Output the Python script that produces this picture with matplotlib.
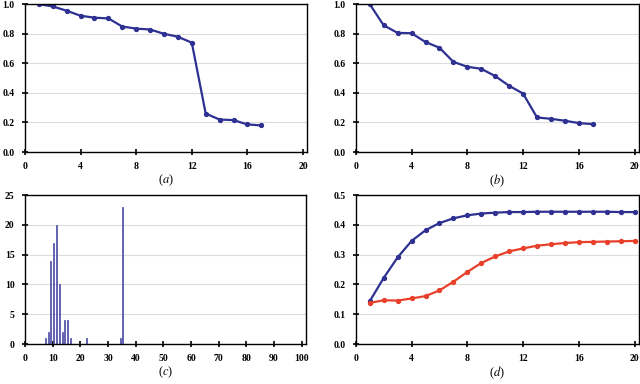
import numpy as np
import matplotlib
matplotlib.use('Agg')
import matplotlib.pyplot as plt

plt.rcParams['font.family'] = 'Liberation Serif'
plt.rcParams['mathtext.fontset'] = 'stix'

# (a) and (b): decreasing curves over 17 steps
steps = np.arange(1, 18)
a_vals = [1.0, 0.985, 0.956, 0.922, 0.909, 0.904, 0.849, 0.835, 0.829,
          0.80, 0.78, 0.74, 0.26, 0.22, 0.216, 0.187, 0.18]
b_vals = [1.0, 0.857, 0.806, 0.804, 0.744, 0.706, 0.61, 0.577, 0.563,
          0.514, 0.448, 0.396, 0.234, 0.225, 0.212, 0.196, 0.189]

# (c): histogram-like bars
c_pos = [7.5, 8.4, 9.4, 10.4, 11.4, 12.4, 13.4, 14.3, 15.4, 16.4, 22.4, 34.5, 35.4]
c_cnt = [1, 2, 14, 17, 20, 10, 2, 4, 4, 1, 1, 1, 23]

# (d): two rising curves over 20 steps
d_steps = np.arange(1, 21)
d_blue = [0.144, 0.222, 0.291, 0.346, 0.382, 0.406, 0.422, 0.432, 0.438, 0.441,
          0.443, 0.443, 0.444, 0.444, 0.444, 0.444, 0.444, 0.444, 0.443, 0.443]
d_red = [0.138, 0.147, 0.146, 0.153, 0.161, 0.180, 0.209, 0.242, 0.272, 0.294,
         0.311, 0.321, 0.330, 0.335, 0.339, 0.342, 0.343, 0.344, 0.345, 0.346]

NAVY = '#2e3192'
RED = '#e8402a'

fig = plt.figure(figsize=(6.4, 3.84), dpi=100)
ax_a = fig.add_axes([0.039, 0.604, 0.441, 0.385])
ax_b = fig.add_axes([0.556, 0.604, 0.442, 0.385])
ax_c = fig.add_axes([0.039, 0.104, 0.439, 0.388])
ax_d = fig.add_axes([0.556, 0.104, 0.442, 0.388])


def style(ax, label):
    for s in ax.spines.values():
        s.set_linewidth(1.0)
        s.set_color('black')
    ax.tick_params(direction='inout', length=5, width=1.2, labelsize=7, pad=5)
    for t in ax.get_xticklabels() + ax.get_yticklabels():
        t.set_fontweight('bold')
    ax.yaxis.grid(True, color='#dcdcdc', linewidth=0.8)
    ax.set_axisbelow(True)
    ax.set_xlabel(label, fontsize=9, labelpad=1)


for ax, vals, lab in [(ax_a, a_vals, '($a$)'), (ax_b, b_vals, '($b$)')]:
    ax.plot(steps, vals, color=NAVY, linewidth=1.6, marker='o', markersize=2.8)
    ax.set_xlim(0, 20.3)
    ax.set_ylim(0, 1.0)
    ax.set_xticks(np.arange(0, 21, 4))
    ax.set_yticks(np.arange(0, 1.01, 0.2))
    ax.set_yticklabels(['%.1f' % v for v in np.arange(0, 1.01, 0.2)])
    style(ax, lab)

ax_c.bar(c_pos, c_cnt, width=0.35, color='#9a9ad8', edgecolor='#3a3a9a', linewidth=0.5)
ax_c.set_xlim(0, 101.5)
ax_c.set_ylim(0, 25)
ax_c.set_xticks(np.arange(0, 101, 10))
ax_c.set_yticks(np.arange(0, 26, 5))
style(ax_c, '($c$)')

ax_d.plot(d_steps, d_blue, color=NAVY, linewidth=1.6, marker='o', markersize=2.8)
ax_d.plot(d_steps, d_red, color=RED, linewidth=1.6, marker='o', markersize=2.8)
ax_d.set_xlim(0, 20.3)
ax_d.set_ylim(0, 0.5)
ax_d.set_xticks(np.arange(0, 21, 4))
ax_d.set_yticks(np.arange(0, 0.51, 0.1))
ax_d.set_yticklabels(['%.1f' % v for v in np.arange(0, 0.51, 0.1)])
style(ax_d, '($d$)')

fig.savefig('out.png', dpi=100)
